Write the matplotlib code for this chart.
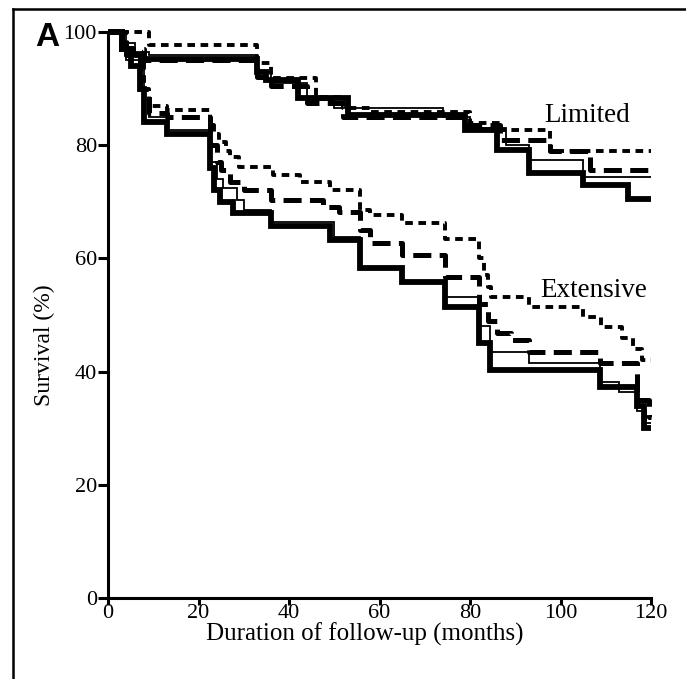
import matplotlib
matplotlib.use("Agg")
import matplotlib.pyplot as plt
import matplotlib as mpl
from matplotlib.lines import Line2D

mpl.rcParams.update({
    "font.family": ["Liberation Serif", "DejaVu Serif"],
    "font.size": 16,
    "lines.scale_dashes": False,
})

### Kaplan-Meier style step curves (months, survival %)
# Limited disease
lim_thick_t = [0, 3, 5, 8, 33, 35, 42, 53, 79, 86, 93, 105, 115, 120]
lim_thick_s = [100, 97, 96, 95.3, 93, 91.5, 88.3, 85.4, 82.7, 79.2, 75.1, 73, 70.5, 70.5]

lim_thin_t = [0, 3, 6, 9, 33, 36, 44, 50, 74, 80, 88, 93, 105, 120]
lim_thin_s = [100, 98, 96.5, 96, 93, 91, 88, 86.5, 85, 83, 80, 77.4, 74.4, 74.4]

lim_dash_t = [0, 4, 8, 33, 36, 44, 52, 79, 86.6, 97.6, 106.5, 120]
lim_dash_s = [100, 97, 95, 92, 90.5, 87.5, 85, 83.5, 80.9, 79, 75.6, 75.6]

lim_dot_t = [0, 9, 33, 36, 46, 52, 58, 80, 86.6, 97.7, 120]
lim_dot_s = [100, 97.7, 94.5, 91.9, 88.5, 86.5, 85.8, 84, 82.7, 79, 79]

# Extensive disease
ext_thick_t = [0, 3, 5, 7, 8, 13, 22.5, 23.5, 24.8, 27.6, 36, 49, 55.7, 65, 74.5, 82, 84.4, 108.7, 117, 118.5, 120]
ext_thick_s = [100, 97, 94, 90, 84.1, 82, 76, 72, 70, 68, 65.7, 63.3, 58.3, 55.8, 51.4, 45, 40.3, 37.3, 34, 30, 30]

ext_thin_t = [0, 4, 8, 9, 13, 22.5, 24, 25.5, 28.5, 30, 36, 50, 55.7, 65, 74.7, 82, 84.4, 93, 108.7, 113, 117, 119, 120]
ext_thin_s = [100, 95, 88, 85, 82.7, 77, 74, 72.4, 70.3, 68.5, 66.4, 63.8, 58.5, 56, 53.2, 48, 43.5, 41.5, 38.2, 36.4, 33, 31, 31]

ext_dash_t = [0, 4, 7, 9, 13, 22.5, 24, 25, 27, 30, 36, 47.5, 51, 55.7, 58, 65, 74.5, 82, 84, 86, 89, 93, 108.7, 117, 119.5, 120]
ext_dash_s = [100, 96, 90, 85.7, 85, 80, 77, 75.6, 73.5, 72, 70.3, 69, 68.2, 65, 62.7, 60.6, 56.7, 52, 49, 46.8, 45.6, 43.5, 41.5, 35, 32, 32]

ext_dot_t = [0, 4, 8, 9, 13, 22.5, 23.5, 24.5, 26, 27, 29, 36.5, 42.4, 49, 55.7, 58, 65, 74.5, 82, 83, 84, 84.6, 93, 105, 109, 113.5, 116, 118, 120]
ext_dot_s = [100, 96, 90, 87, 86.2, 83.5, 82, 80.5, 79, 78, 76.2, 74.7, 73.5, 72, 68.5, 67.7, 66.2, 63.4, 60, 57, 55, 53.2, 51.4, 49.6, 47.9, 46, 44, 42, 42]

x_ticks = [0, 20, 40, 60, 80, 100, 120]
y_ticks = [0, 20, 40, 60, 80, 100]

styles = {
    "thick": dict(color="black", lw=4.2, linestyle="-"),
    "thin": dict(color="black", lw=1.3, linestyle="-"),
    "dash": dict(color="black", lw=3.6, linestyle=(0, (13, 6))),
    "dot": dict(color="black", lw=2.8, linestyle=(0, (5.5, 4))),
}

fig = plt.figure(figsize=(6.86, 6.79), dpi=100)
ax = fig.add_axes([108 / 686, 1 - 598 / 679, (651 - 108) / 686, (598 - 32) / 679])

curves = [
    (lim_thick_t, lim_thick_s, "thick"), (lim_thin_t, lim_thin_s, "thin"),
    (lim_dash_t, lim_dash_s, "dash"), (lim_dot_t, lim_dot_s, "dot"),
    (ext_thick_t, ext_thick_s, "thick"), (ext_thin_t, ext_thin_s, "thin"),
    (ext_dash_t, ext_dash_s, "dash"), (ext_dot_t, ext_dot_s, "dot"),
]
for t, s, kind in curves:
    ax.step(t, s, where="post", clip_on=False, solid_capstyle="butt",
            dash_capstyle="butt", solid_joinstyle="miter", **styles[kind])

ax.set_xlim(0, 120)
ax.set_ylim(0, 100)
ax.set_xticks(x_ticks)
ax.set_yticks(y_ticks)
for side in ["top", "right"]:
    ax.spines[side].set_visible(False)
for side in ["left", "bottom"]:
    ax.spines[side].set_linewidth(2.2)
ax.tick_params(width=2.2, length=7, pad=1, labelsize=16)
ax.tick_params(axis="x", length=5, pad=-1)
ax.set_xlabel("Duration of follow-up (months)", fontsize=18)
ax.xaxis.set_label_coords(0.473, -0.043)
ax.set_ylabel("Survival (%)", fontsize=17)
ax.yaxis.set_label_coords(-0.098, 0.447)

ax.text(96.5, 85.3, "Limited", fontsize=19.5, va="center", ha="left")
ax.text(95.5, 54.4, "Extensive", fontsize=19.5, va="center", ha="left")

fig.text(35 / 686, 1 - 46 / 679, "A", family=["Liberation Sans", "DejaVu Sans"],
         fontweight="bold", fontsize=24, ha="left", va="baseline")

# panel frame (left and top edges only are visible)
fig.add_artist(Line2D([13 / 686, 13 / 686], [0, 1 - 9 / 679], color="black", lw=1.8, transform=fig.transFigure))
fig.add_artist(Line2D([13 / 686, 1], [1 - 9 / 679, 1 - 9 / 679], color="black", lw=1.8, transform=fig.transFigure))

fig.savefig("out.png", dpi=100)
